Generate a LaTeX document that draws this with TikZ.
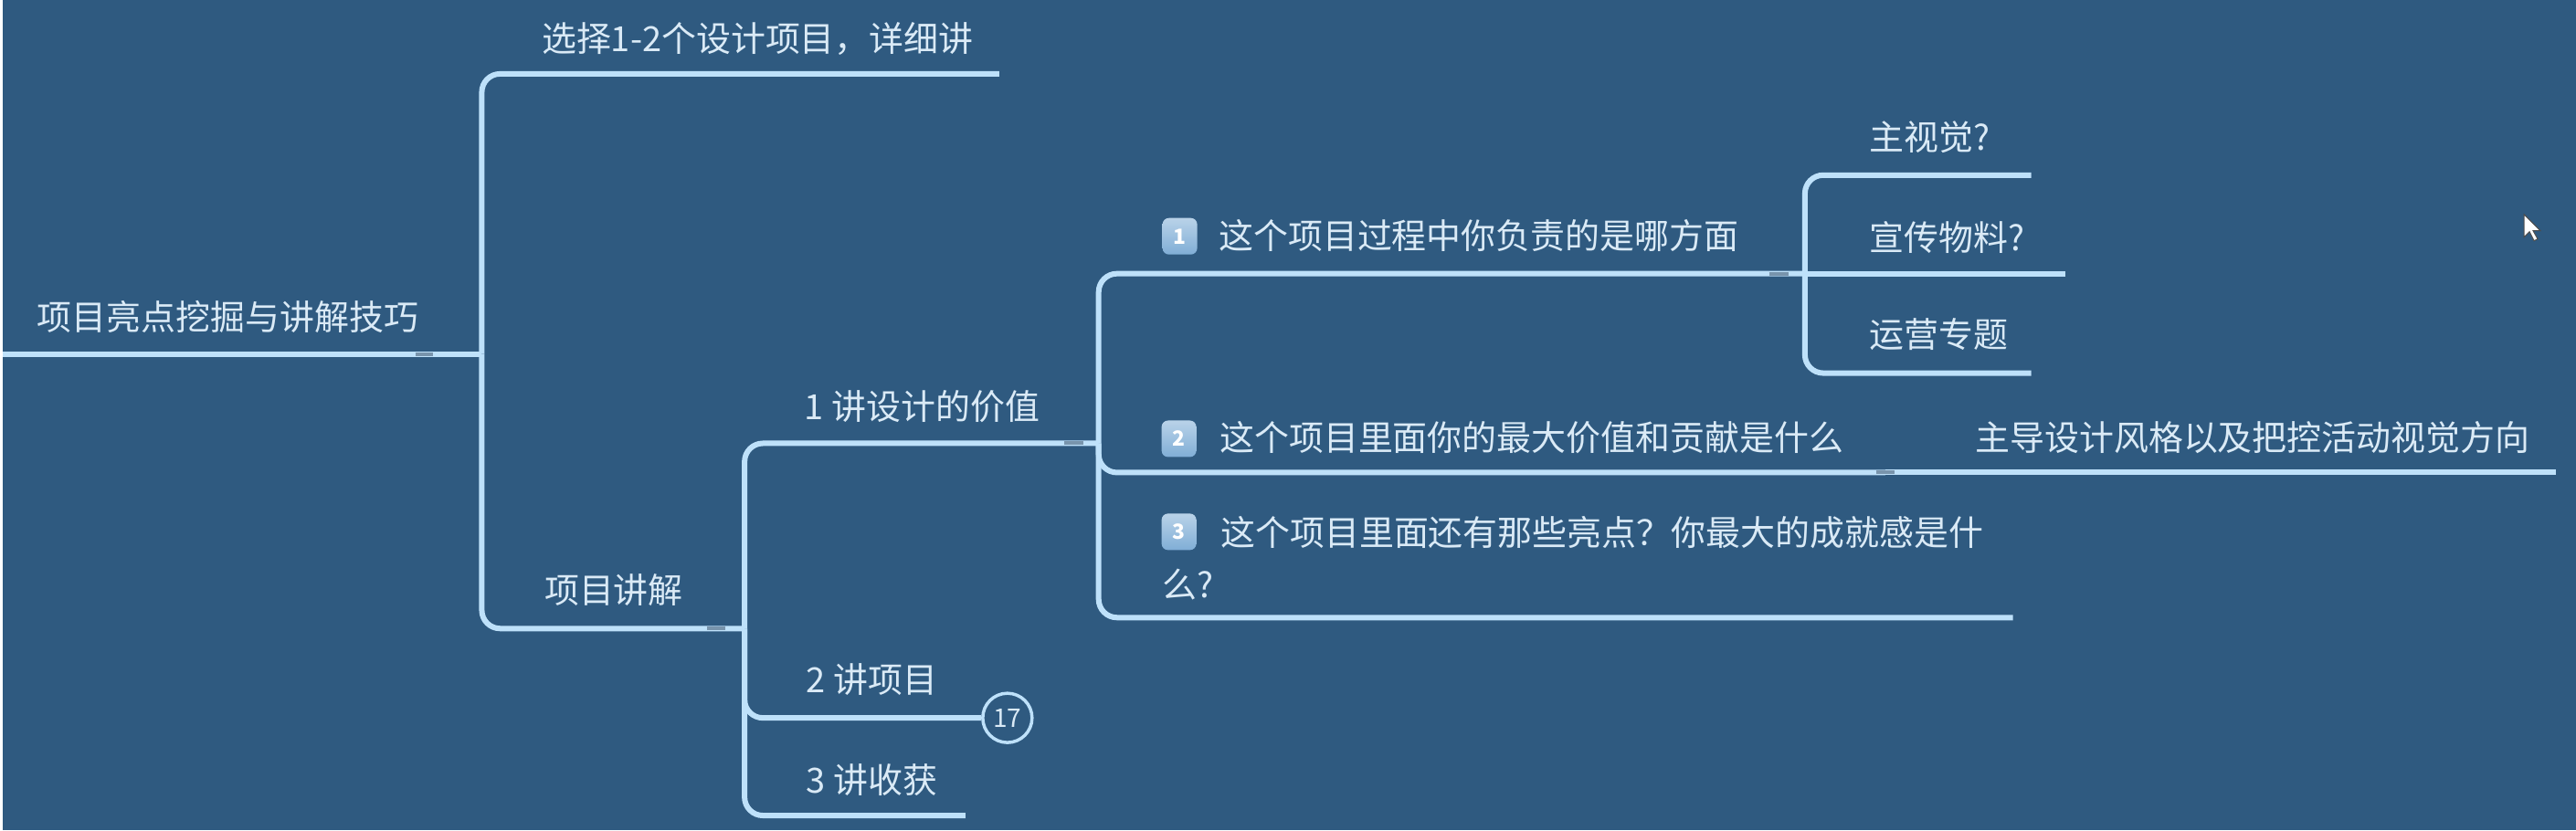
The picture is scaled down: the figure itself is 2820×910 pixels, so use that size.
\documentclass[tikz,border=0pt]{standalone}
\usepackage{fontspec}
\setmainfont{Noto Sans CJK SC}
\usepackage{tikz}
\usetikzlibrary{shapes}
\usetikzlibrary{calc}
\definecolor{fond}{RGB}{47,90,128}
\definecolor{trait}{RGB}{190,225,250}
\definecolor{texte}{RGB}{218,234,246}
\definecolor{gris}{RGB}{120,148,172}
\definecolor{pastille}{RGB}{128,174,214}
\tikzstyle{sujet}=[inner sep=0pt,anchor=west,text=texte,
        font=\fontsize{10.8pt}{16.2pt}\selectfont]
\tikzstyle{branche}=[draw=trait,line width=0.06cm,rounded corners=0.2cm]
\tikzstyle{replie}=[draw=gris,line width=0.04cm]
\tikzstyle{numero}=[rectangle,rounded corners=0.07cm,minimum width=0.38cm,
        minimum height=0.40cm,inner sep=0pt,top color=pastille!55!white,
        bottom color=pastille,text=white,font=\fontsize{6.5pt}{7pt}\selectfont\bfseries]
\tikzstyle{compteur}=[circle,draw=trait,line width=0.035cm,minimum size=0.54cm,
        inner sep=0pt,text=texte,font=\fontsize{8pt}{9pt}\selectfont]

\begin{document}
\begin{tikzpicture}[x=0.01cm,y=-0.01cm]
\fill[fond] (0,0) rectangle (2820,910);
\node[sujet] (root) at (37,347) {项目亮点挖掘与讲解技巧};
\node[sujet] (sel) at (590,43) {选择1-2个设计项目，详细讲};
\node[sujet] (proj) at (593,647) {项目讲解};
\node[sujet] (val) at (878,446) {1 讲设计的价值};
\node[sujet] (talk) at (880,745) {2 讲项目};
\node[sujet] (gain) at (880,855) {3 讲收获};
\node[compteur] (c17) at (1101,787) {17};
\node[numero] (b1) at (1290,259) {1};
\node[sujet] (q1) at (1332,258) {这个项目过程中你负责的是哪方面};
\node[numero] (b2) at (1289,481) {2};
\node[sujet] (q2) at (1333,480) {这个项目里面你的最大价值和贡献是什么};
\node[numero] (b3) at (1289,583) {3};
\node[sujet,anchor=north west,align=left] (q3) at (1270,565)
        {\hspace{0.64cm}这个项目里面还有那些亮点？你最大的成就感是什\\么?};
\node[sujet] (s1) at (2045,150) {主视觉?};
\node[sujet] (s2) at (2045,260) {宣传物料?};
\node[sujet] (s3) at (2045,367) {运营专题};
\node[sujet] (lead) at (2161,480) {主导设计风格以及把控活动视觉方向};
\coordinate (rootL) at (0,388);
\coordinate (rootJ) at (525,388);
\coordinate (selE) at (1092,81);
\coordinate (projE) at (813,689);
\coordinate (valE) at (1201,486);
\coordinate (gainE) at (1055,894);
\coordinate (q1E) at (1975,300);
\coordinate (q2E) at (2063,518);
\coordinate (q3E) at (2203,677);
\coordinate (s1E) at (2223,192);
\coordinate (s2E) at (2260,300);
\coordinate (s3E) at (2223,409);
\coordinate (leadE) at (2798,518);
%Placement des branches
\draw[branche] (rootL) -- (rootJ);
\draw[branche] (rootJ) |- (selE);
\draw[branche] (rootJ) |- (projE);
\draw[branche] (projE) |- (valE);
\draw[branche] (projE) |- (c17.west);
\draw[branche] (projE) |- (gainE);
\draw[branche] (valE) |- (q1E);
\draw[branche] (valE) |- (q2E);
\draw[branche] (valE) |- (q3E);
\draw[branche] (q1E) |- (s1E);
\draw[branche] (q1E) -- (s2E);
\draw[branche] (q1E) |- (s3E);
\draw[branche] (q2E) -- (leadE);
\draw[replie] (452,388) -- (472,388);
\draw[replie] (772,689) -- (792,689);
\draw[replie] (1163,486) -- (1184,486);
\draw[replie] (1936,300) -- (1957,300);
\draw[replie] (2053,518) -- (2073,518);
\filldraw[fill=white,draw=black!70,line width=0.01cm] (2763,235) -- ++(0,25)
        -- ++(6,-6) -- ++(5,10) -- ++(4,-2) -- ++(-5,-9) -- ++(8,0) -- cycle;
\end{tikzpicture}
\end{document}
